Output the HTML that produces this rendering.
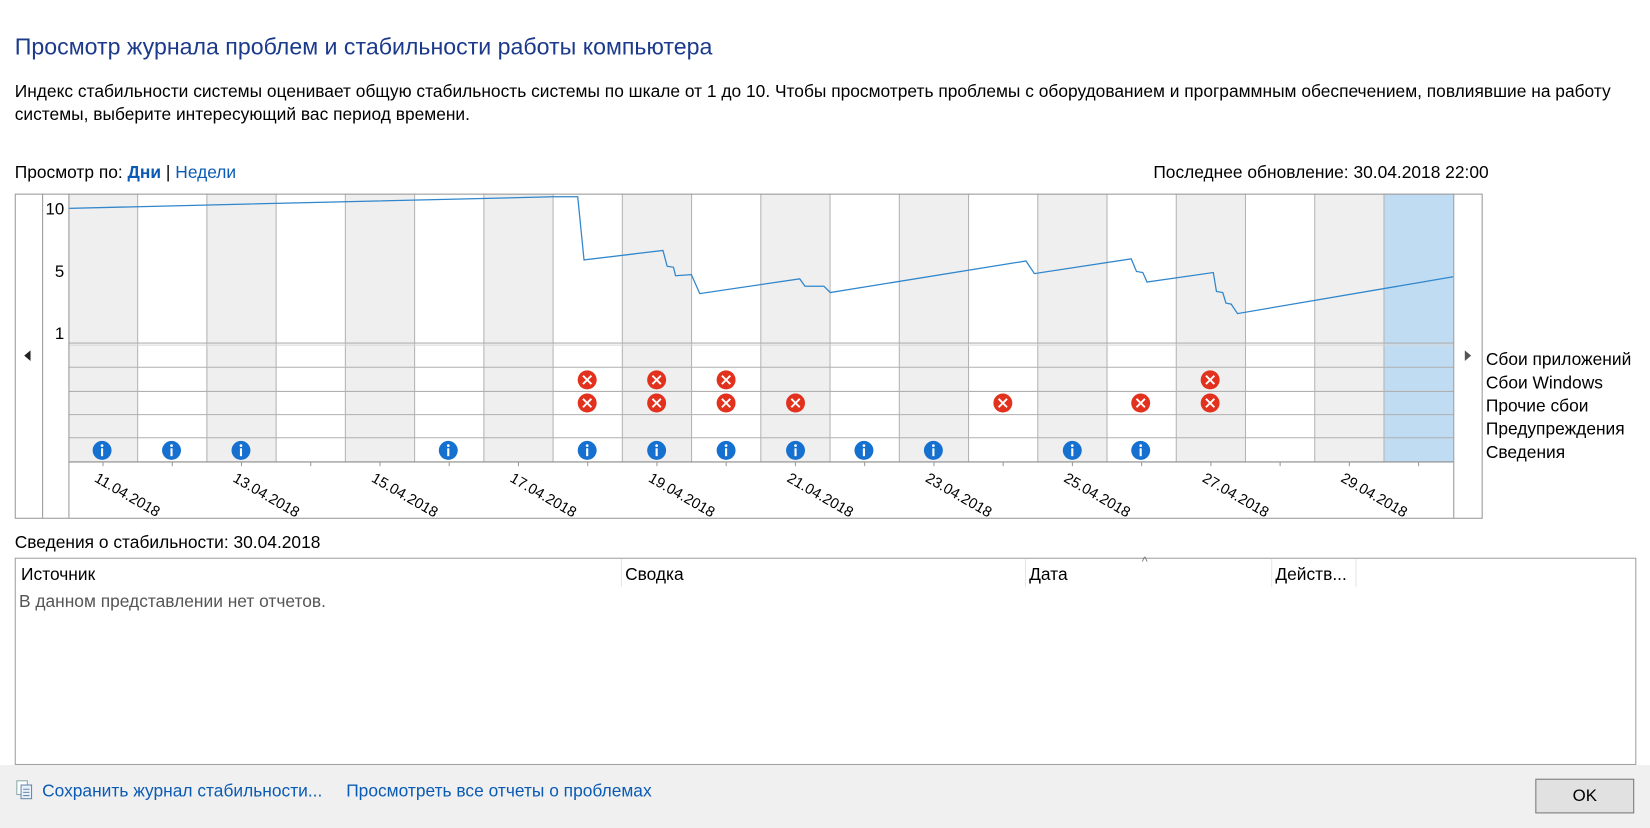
<!DOCTYPE html>
<html><head><meta charset="utf-8"><style>
html,body{margin:0;padding:0;background:#fff;overflow:hidden}
#w{position:absolute;left:0;top:0;width:1568px;height:787px;transform:scale(1.05230);transform-origin:0 0;font-family:"Liberation Sans","DejaVu Sans",sans-serif;color:#000}
.t{position:absolute;white-space:nowrap;font-size:16.5px}
a{color:#0a5bb5;text-decoration:none}
</style></head><body><div id="w">
<div class="t" style="left:14px;top:32px;font-size:22px;color:#1c3a8c">Просмотр журнала проблем и стабильности работы компьютера</div>
<div class="t" style="left:14px;top:78px;">Индекс стабильности системы оценивает общую стабильность системы по шкале от 1 до 10. Чтобы просмотреть проблемы с оборудованием и программным обеспечением, повлиявшие на работу</div>
<div class="t" style="left:14px;top:100px;">системы, выберите интересующий вас период времени.</div>
<div class="t" style="left:14px;top:155px;">Просмотр по: <b style="color:#0a5bb5">Дни</b> | <span style="color:#0a5bb5">Недели</span></div>
<div class="t" style="left:1096px;top:155px;">Последнее обновление: 30.04.2018 22:00</div>

<svg id="sv" style="position:absolute;left:0;top:0" width="1568" height="787" font-family="Liberation Sans, sans-serif">
<g id="cols"></g>
<polyline fill="none" stroke="#2f86cc" stroke-width="1.2" points="65,198 526,187 549,187 555,247 630,238 634,253 640,254 642,262 657,261 665,279 760,265 765,272 783,272 789,278 975,248 983,260 1075,246 1080,258 1086,259 1090,268 1153,259 1156,277 1162,278 1165,288 1170,289 1176,298 1381,263"/>
<rect x="14.5" y="184.5" width="1394" height="308" fill="none" stroke="#999"/>
<line x1="40.5" y1="184" x2="40.5" y2="492" stroke="#999"/>
<line x1="65.5" y1="184" x2="65.5" y2="492" stroke="#999"/>
<line x1="1381.5" y1="184" x2="1381.5" y2="492" stroke="#999"/>
<text x="61" y="204" font-size="16" text-anchor="end">10</text>
<text x="61" y="263" font-size="16" text-anchor="end">5</text>
<text x="61" y="322" font-size="16" text-anchor="end">1</text>
<path d="M29,333 L29,343 L23,338Z" fill="#222"/>
<path d="M1392,333 L1392,343 L1398,338Z" fill="#555"/>
<g font-size="16.5"><text x="1412" y="347">Сбои приложений</text><text x="1412" y="369">Сбои Windows</text><text x="1412" y="391">Прочие сбои</text><text x="1412" y="413">Предупреждения</text><text x="1412" y="435">Сведения</text></g>
</svg>

<div class="t" style="left:14px;top:507px;">Сведения о стабильности: 30.04.2018</div>
<div style="position:absolute;left:14px;top:530px;width:1539px;height:195px;border:1px solid #a0a0a0;background:#fff"></div>
<div style="position:absolute;left:590px;top:531px;width:1px;height:27px;background:#e5e5e5"></div>
<div style="position:absolute;left:974px;top:531px;width:1px;height:27px;background:#e5e5e5"></div>
<div style="position:absolute;left:1208px;top:531px;width:1px;height:27px;background:#e5e5e5"></div>
<div style="position:absolute;left:1288px;top:531px;width:1px;height:27px;background:#e5e5e5"></div>
<div class="t" style="left:20px;top:537px;">Источник</div>
<div class="t" style="left:594px;top:537px;">Сводка</div>
<div class="t" style="left:978px;top:537px;">Дата</div>
<div class="t" style="left:1212px;top:537px;">Действ...</div>
<div class="t" style="left:1085px;top:527px;font-size:12px;color:#777">^</div>
<div class="t" style="left:18px;top:563px;color:#555">В данном представлении нет отчетов.</div>

<div style="position:absolute;left:0;top:727px;width:1568px;height:60px;background:#f0f0f0"></div>
<svg style="position:absolute;left:15px;top:741px" width="18" height="20"><rect x="1" y="1" width="10" height="13" fill="#fff" stroke="#8aa"/><rect x="5" y="5" width="10" height="13" fill="#e8f0fa" stroke="#6688aa"/><line x1="7" y1="9" x2="13" y2="9" stroke="#68a"/><line x1="7" y1="12" x2="13" y2="12" stroke="#68a"/><line x1="7" y1="15" x2="13" y2="15" stroke="#68a"/></svg>
<div class="t" style="left:40px;top:743px;"><a>Сохранить журнал стабильности...</a></div>
<div class="t" style="left:329px;top:743px;"><a>Просмотреть все отчеты о проблемах</a></div>
<div style="position:absolute;left:1459px;top:740px;width:92px;height:31px;border:1px solid #7a7a7a;background:#e1e1e1;font-size:16px;text-align:center;line-height:31px">OK</div>
</div>
<script>
(function(){
var NS='http://www.w3.org/2000/svg';
var g=document.getElementById('cols');
function el(tag,attrs,txt){var e=document.createElementNS(NS,tag);for(var k in attrs)e.setAttribute(k,attrs[k]);if(txt)e.textContent=txt;g.appendChild(e);return e;}
var x0=65,cw=65.8;
for(var i=0;i<20;i++){
 var f=i==19?'#c0dcf3':(i%2==0?'#efefef':'#ffffff');
 el('rect',{x:x0+i*cw,y:184,width:cw,height:255,fill:f});
}
for(var i=1;i<20;i++){var x=x0+i*cw;el('line',{x1:x,y1:184,x2:x,y2:439,stroke:'#b4b4b4'});}
[326,349,372,394,416].forEach(function(y){el('line',{x1:65,y1:y,x2:1381,y2:y,stroke:'#b0b0b0'});});
el('line',{x1:65,y1:328,x2:1381,y2:328,stroke:'#d8d8d8'});
el('line',{x1:65,y1:439,x2:1381,y2:439,stroke:'#8a8a8a'});
for(var i=0;i<20;i++){var c=x0+(i+.5)*cw;el('line',{x1:c,y1:439,x2:c,y2:443,stroke:'#999'});}
for(var i=0;i<19;i+=2){var c=x0+(i+.5)*cw-9;el('text',{transform:'translate('+c+',457) rotate(30)','font-size':'14',fill:'#000'},(11+i)+'.04.2018');}
function X(cx,cy){el('circle',{cx:cx,cy:cy,r:9,fill:'#e2321e'});el('path',{d:'M'+(cx-4)+' '+(cy-4)+'L'+(cx+4)+' '+(cy+4)+'M'+(cx+4)+' '+(cy-4)+'L'+(cx-4)+' '+(cy+4),stroke:'#fff','stroke-width':1.8});}
function I(cx,cy){el('circle',{cx:cx,cy:cy,r:9,fill:'#1570d0'});el('circle',{cx:cx,cy:cy-4.5,r:1.3,fill:'#fff'});el('rect',{x:cx-1,y:cy-2,width:2,height:7.5,fill:'#fff'});}
[558,624,690,1150].forEach(function(c){X(c,361);});
[558,624,690,756,953,1084,1150].forEach(function(c){X(c,383);});
[97,163,229,426,558,624,690,756,821,887,1019,1084].forEach(function(c){I(c,428);});
})();
</script>
</body></html>
